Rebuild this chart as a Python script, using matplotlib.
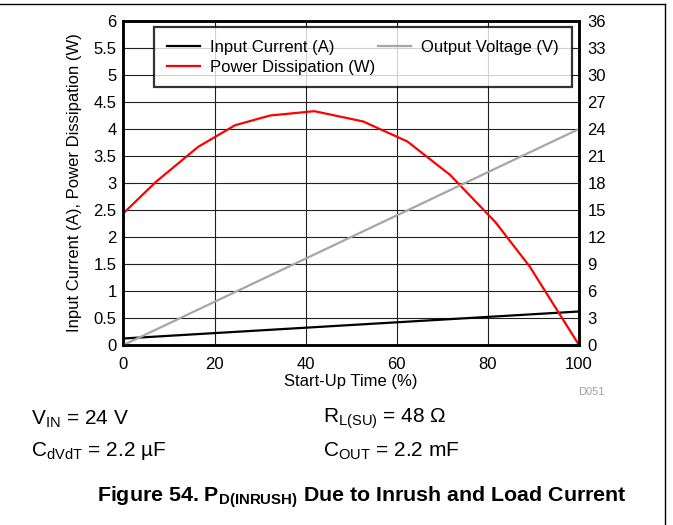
import matplotlib
matplotlib.use("Agg")
import matplotlib.pyplot as plt
from matplotlib.lines import Line2D

plt.rcParams['font.family'] = ['Liberation Sans', 'DejaVu Sans']
plt.rcParams['mathtext.fontset'] = 'custom'
plt.rcParams['mathtext.rm'] = 'Liberation Sans'
plt.rcParams['mathtext.bf'] = 'Liberation Sans:bold'

# start-up time (%) and measured curves
pd_time = [0, 7.1, 16.4, 24.5, 32.2, 41.9, 52.6, 62.3, 71.7, 81.7, 89.2, 100]
pd_watts = [2.44, 3.02, 3.67, 4.07, 4.25, 4.33, 4.14, 3.77, 3.15, 2.27, 1.45, 0.0]

current_time = [0, 20, 40, 60, 80, 100]
current_amps = [0.12, 0.22, 0.32, 0.42, 0.52, 0.62]

vout_time = [0, 100]
vout_volts = [0, 24]

x_ticks = [0, 20, 40, 60, 80, 100]
left_ticks = [0, 0.5, 1, 1.5, 2, 2.5, 3, 3.5, 4, 4.5, 5, 5.5, 6]
left_labels = ['0', '0.5', '1', '1.5', '2', '2.5', '3', '3.5', '4', '4.5', '5', '5.5', '6']
right_ticks = [0, 3, 6, 9, 12, 15, 18, 21, 24, 27, 30, 33, 36]

fig = plt.figure(figsize=(6.73, 5.25), dpi=100)
ax = fig.add_axes([0.1835, 0.3429, 0.6768, 0.6171])
ax2 = ax.twinx()

ax.set_xlim(0, 100)
ax.set_ylim(0, 6)
ax2.set_ylim(0, 36)
ax.set_xticks(x_ticks)
ax.set_yticks(left_ticks)
ax.set_yticklabels(left_labels)
ax2.set_yticks(right_ticks)

ax.grid(True, color='#202020', linewidth=0.8)
ax.set_axisbelow(True)

h1, = ax.plot(current_time, current_amps, color='black', lw=1.6, label='Input Current (A)')
h2, = ax.plot(pd_time, pd_watts, color='#ff0000', lw=1.6, label='Power Dissipation (W)')
h3, = ax2.plot(vout_time, vout_volts, color='#a6a6a6', lw=1.6, label='Output Voltage (V)')

for a in (ax, ax2):
    for s in a.spines.values():
        s.set_linewidth(1.8)
    a.tick_params(length=0, labelsize=12)
ax.tick_params(axis='y', pad=5)
ax.tick_params(axis='x', pad=9)
ax2.tick_params(axis='y', pad=6)

ax.set_xlabel('Start-Up Time (%)', fontsize=12, labelpad=1)
ax.set_ylabel('Input Current (A), Power Dissipation (W)', fontsize=12, labelpad=8)

leg = ax2.legend(handles=[h1, h2, h3], ncol=2, loc='upper left',
                 bbox_to_anchor=(0.067, 0.80, 0.917, 0.181), mode='expand',
                 borderaxespad=0, fontsize=12, frameon=True, fancybox=False,
                 handlelength=2.0, handletextpad=0.6, borderpad=0.75,
                 labelspacing=0.3)
leg.get_frame().set_edgecolor('black')
leg.get_frame().set_linewidth(1.6)

fig.text(605 / 673, 1 - 392 / 525, 'D051', color='#a0a0a0', fontsize=8,
         ha='right', va='center')

# test conditions
fig.text(31 / 673, 1 - 419 / 525, r'V$_{\mathrm{IN}}$ = 24 V', fontsize=15, va='center')
fig.text(31 / 673, 1 - 451 / 525, r'C$_{\mathrm{dVdT}}$ = 2.2 µF', fontsize=15, va='center')
fig.text(323 / 673, 1 - 419 / 525, r'R$_{\mathrm{L(SU)}}$ = 48 Ω', fontsize=15, va='center')
fig.text(323 / 673, 1 - 451 / 525, r'C$_{\mathrm{OUT}}$ = 2.2 mF', fontsize=15, va='center')

fig.text(362 / 673, 1 - 497 / 525,
         r'Figure 54. P$_{\mathbf{D(INRUSH)}}$ Due to Inrush and Load Current',
         fontsize=15.4, fontweight='bold', ha='center', va='center')

# page frame
fig.add_artist(Line2D([0, 665 / 673], [1 - 4 / 525, 1 - 4 / 525],
                      transform=fig.transFigure, color='black', lw=1))
fig.add_artist(Line2D([665 / 673, 665 / 673], [0, 1 - 4 / 525],
                      transform=fig.transFigure, color='black', lw=1))

fig.savefig('out.png', dpi=100)
